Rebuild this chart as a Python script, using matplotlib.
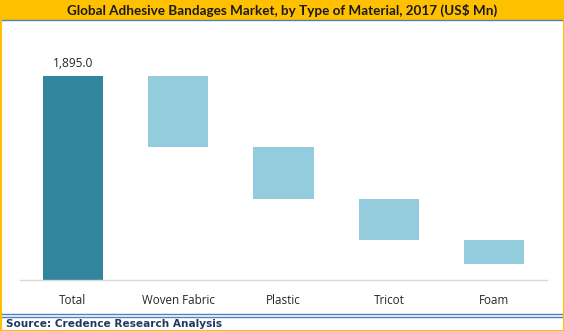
import matplotlib
matplotlib.use("Agg")
import matplotlib.pyplot as plt
from matplotlib.patches import Rectangle
from matplotlib.lines import Line2D
import numpy as np

# Data (US$ Mn)
categories = ["Total", "Woven Fabric", "Plastic", "Tricot", "Foam"]
total_value = 1895.0
segment_values = [660.0, 483.0, 381.0, 223.0]

W, H = 564, 331
fig = plt.figure(figsize=(W / 100, H / 100), dpi=100)
fig.patch.set_facecolor("white")

def fx(px):
    return px / W

def fy(py):
    return 1 - py / H

# title band
fig.patches.append(Rectangle((0, fy(19.5)), 1, 19.5 / H, transform=fig.transFigure,
                             facecolor="#FFC000", edgecolor="none", zorder=0))
fig.lines.append(Line2D([fx(1), fx(563)], [fy(20), fy(20)], transform=fig.transFigure,
                        color="#4F81BD", lw=1.0))
fig.text(0.5, fy(10), "Global Adhesive Bandages Market, by Type of Material, 2017 (US$ Mn)",
         ha="center", va="center", fontsize=9.7, fontweight="bold", family="Lato",
         color="#1a1a1a")

# footer lines and source
for yy in (314, 316.5):
    fig.lines.append(Line2D([fx(1), fx(563)], [fy(yy), fy(yy)], transform=fig.transFigure,
                            color="#4F81BD", lw=1.0))
fig.text(fx(6), fy(324), "Source: Credence Research Analysis", ha="left", va="center",
         fontsize=7.6, fontweight="bold", family="DejaVu Sans", color="#1F3864")

# outer border
fig.patches.append(Rectangle((fx(0.5), fy(330.5)), fx(563), 330 / H, transform=fig.transFigure,
                             facecolor="none", edgecolor="#FFC000", lw=1.5, zorder=5))

# waterfall axes
ax = fig.add_axes([fx(20), fy(280), fx(527), 240 / H])
ymax = total_value * 240 / 204
x = np.arange(len(categories))
tops = total_value - np.concatenate([[0], np.cumsum(segment_values)[:-1]])
bottoms = tops - np.array(segment_values)

ax.bar(x[0], total_value, width=0.57, color="#31859C")
ax.bar(x[1:], segment_values, bottom=bottoms, width=0.57, color="#93CDDD")
ax.text(x[0], total_value + 55, f"{total_value:,.1f}", ha="center", va="bottom",
        fontsize=8.6, family="Open Sans", color="#262626")

ax.set_xlim(-0.5, len(categories) - 0.5)
ax.set_ylim(0, ymax)
ax.set_xticks(x)
ax.set_xticklabels(categories, fontsize=8.4, family="Open Sans", color="#262626")
ax.tick_params(axis="x", length=0, pad=10)
ax.set_yticks([])
for s in ["top", "right", "left"]:
    ax.spines[s].set_visible(False)
ax.spines["bottom"].set_color("#D9D9D9")
ax.spines["bottom"].set_linewidth(1.0)

fig.savefig("out.png", dpi=100)
